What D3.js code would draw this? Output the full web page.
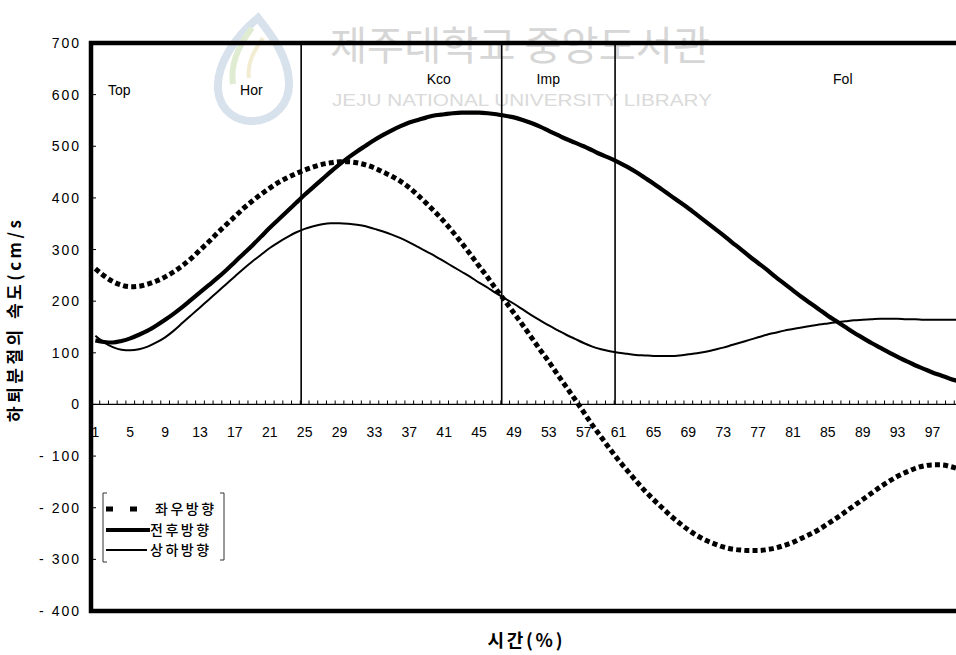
<!DOCTYPE html>
<html>
<head>
<meta charset="utf-8">
<script src="https://cdn.jsdelivr.net/npm/d3@7/dist/d3.min.js"></script>
<style>
  html, body { margin: 0; padding: 0; background: #fff; }
  svg { display: block; }
  .num { font-family: "Liberation Sans", Arial, sans-serif; }
  .kr { font-family: "Noto Sans CJK KR", sans-serif; }
</style>
</head>
<body>
<svg id="chart" width="956" height="655"></svg>
<script>
// Time axis: percent of the movement, 1..100
const categories = d3.range(1, 101);

// 좌우방향 (medio-lateral) shank velocity, cm/s
const lateral = [
  263, 249, 238, 231, 228, 229, 233, 239, 247, 257,
  269, 283, 299, 315, 332, 348, 364, 380, 394, 407,
  419, 430, 439, 447, 454, 460, 465, 468, 470, 470,
  468, 464, 458, 450, 442, 432, 420, 405, 389, 372,
  354, 334, 313, 291, 268, 246, 222, 200, 177, 154,
  130, 106, 83, 58, 34, 10, -15, -40, -63, -86,
  -108, -128, -148, -167, -184, -200, -216, -230, -243, -254,
  -263, -270, -276, -280, -282, -283, -283, -281, -278, -273,
  -267, -259, -251, -242, -231, -220, -208, -196, -184, -172,
  -160, -149, -139, -131, -124, -119, -117, -117, -120, -125
];

// 전후방향 (antero-posterior) shank velocity, cm/s
const anterior = [
  124, 121, 120, 123, 128, 135, 143, 153, 164, 176,
  189, 203, 217, 231, 245, 260, 276, 292, 308, 325,
  342, 358, 374, 390, 406, 421, 436, 451, 465, 478,
  490, 501, 512, 522, 531, 539, 546, 551, 556, 560,
  562, 564, 565, 565, 565, 564, 562, 559, 556, 551,
  545, 538, 530, 522, 514, 507, 500, 492, 484, 477,
  469, 460, 450, 439, 428, 416, 404, 392, 380, 367,
  354, 341, 328, 314, 301, 287, 274, 261, 247, 234,
  221, 208, 196, 184, 172, 161, 150, 139, 129, 119,
  110, 101, 92, 84, 76, 69, 62, 56, 50, 45
];

// 상하방향 (vertical) shank velocity, cm/s
const vertical = [
  133, 120, 111, 106, 105, 107, 112, 120, 130, 143,
  158, 173, 188, 203, 218, 233, 248, 263, 277, 290,
  303, 314, 324, 333, 340, 345, 349, 351, 351, 350,
  348, 345, 340, 335, 329, 322, 314, 305, 296, 287,
  277, 267, 257, 247, 236, 226, 215, 205, 195, 184,
  173, 163, 153, 144, 135, 127, 119, 112, 107, 103,
  100, 98, 96, 95, 94, 94, 94, 95, 97, 99,
  102, 106, 110, 115, 120, 125, 130, 135, 139, 143,
  146, 149, 152, 155, 157, 159, 161, 163, 164, 165,
  166, 166, 166, 165, 165, 164, 164, 164, 164, 164
];

const seriesNames = ["좌우방향", "전후방향", "상하방향"];

// Value axis
const yTickValues = [700, 600, 500, 400, 300, 200, 100, 0, -100, -200, -300, -400];
const yTickLabels = ["700", "600", "500", "400", "300", "200", "100", "0", "- 100", "- 200", "- 300", "- 400"];

// Time axis labels (every 4th percent)
const xTickLabels = d3.range(1, 101, 4);

// Movement phases: names and their boundaries (percent of time)
const phaseNames = ["Top", "Hor", "Kco", "Imp", "Fol"];
const phaseBounds = [24.1, 47.1, 60.1];
const phaseLabelAt = [1.95, 17.1, 38.5, 51.1, 85.1];
const phaseLabelLevel = [600, 600, 620, 620, 620];

const svg = d3.select("#chart");
const W = 956, H = 655;
const plot = { left: 91, right: 963, top: 43, bottom: 611 };

svg.append("rect").attr("width", W).attr("height", H).attr("fill", "#fff");

// ---- library watermark (faint, behind the chart)
const wm = svg.append("g");
const logo = wm.append("g").attr("opacity", 0.45);
logo.append("path")
  .attr("d", "M258,18 C236,36 216,64 218,90 C220,112 238,122 254,121 C274,120 290,104 289,82 C288,58 274,38 258,18 Z")
  .attr("fill", "none").attr("stroke", "#a9bfd9").attr("stroke-width", 8);
logo.append("path")
  .attr("d", "M252,28 C238,46 230,64 233,84")
  .attr("fill", "none").attr("stroke", "#bcd79c").attr("stroke-width", 6);
logo.append("path")
  .attr("d", "M263,38 C253,52 247,64 249,78")
  .attr("fill", "none").attr("stroke", "#e4d99c").attr("stroke-width", 4);
wm.append("text").attr("class", "kr").attr("x", 330).attr("y", 60)
  .attr("font-size", 40).attr("fill", "#d6d6d6")
  .attr("textLength", 380).attr("lengthAdjust", "spacingAndGlyphs")
  .text("제주대학교 중앙도서관");
wm.append("text").attr("class", "num").attr("x", 332).attr("y", 106)
  .attr("font-size", 17).attr("fill", "#dadada")
  .attr("textLength", 380).attr("lengthAdjust", "spacingAndGlyphs")
  .text("JEJU NATIONAL UNIVERSITY LIBRARY");

// ---- scales
const x = d3.scaleBand().domain(categories).range([plot.left, plot.right]).padding(0);
const bw = x.bandwidth();
const xc = c => x(c) + bw / 2;
const xLin = d3.scaleLinear().domain([0, 100]).range([plot.left, plot.right]);
const y = d3.scaleLinear().domain([-400, 700]).range([plot.bottom, plot.top]);

// ---- phase separators (from the top frame down to the zero line)
svg.append("g").selectAll("line").data(phaseBounds).join("line")
  .attr("x1", d => xLin(d)).attr("x2", d => xLin(d))
  .attr("y1", plot.top).attr("y2", y(0))
  .attr("stroke", "#000").attr("stroke-width", 1.6);

// ---- zero line with category tick marks
const zeroAxis = svg.append("g").attr("transform", `translate(0,${y(0)})`);
zeroAxis.append("line").attr("x1", plot.left).attr("x2", plot.right)
  .attr("stroke", "#000").attr("stroke-width", 1.2);
zeroAxis.selectAll("line.tk").data(d3.range(0, 101)).join("line").attr("class", "tk")
  .attr("x1", d => xLin(d)).attr("x2", d => xLin(d))
  .attr("y1", 0).attr("y2", -4)
  .attr("stroke", "#000").attr("stroke-width", 1);

// x tick labels, beneath the zero line
svg.append("g").selectAll("text").data(xTickLabels).join("text")
  .attr("class", "num")
  .attr("x", d => xc(d)).attr("y", y(0) + 33)
  .attr("text-anchor", "middle").attr("font-size", 14).attr("fill", "#000")
  .text(d => d);

// ---- y axis ticks (inside) and labels
svg.append("g").selectAll("line").data(yTickValues).join("line")
  .attr("x1", plot.left).attr("x2", plot.left + 5)
  .attr("y1", d => y(d)).attr("y2", d => y(d))
  .attr("stroke", "#000").attr("stroke-width", 1);
svg.append("g").selectAll("text").data(yTickValues).join("text")
  .attr("class", "num")
  .attr("x", 81).attr("y", d => y(d) + 5)
  .attr("text-anchor", "end").attr("font-size", 14).attr("fill", "#000")
  .attr("letter-spacing", 2)
  .text((d, i) => yTickLabels[i]);

// ---- series
const line = d3.line()
  .x(d => xc(d.c)).y(d => y(d.v))
  .curve(d3.curveMonotoneX);
const toPts = arr => categories.map((c, i) => ({ c, v: arr[i] }));

const styles = [
  { data: lateral,  width: 5,   dash: "5,3.2" },
  { data: anterior, width: 4.2, dash: null },
  { data: vertical, width: 2,   dash: null }
];
const lines = svg.append("g");
styles.forEach(s => {
  lines.append("path")
    .datum(toPts(s.data))
    .attr("d", line)
    .attr("fill", "none").attr("stroke", "#000")
    .attr("stroke-width", s.width)
    .attr("stroke-linejoin", "round")
    .attr("stroke-dasharray", s.dash);
});

// ---- plot frame (left, top, bottom)
svg.append("path")
  .attr("d", `M${plot.right + 10},${plot.top} H${plot.left} V${plot.bottom} H${plot.right + 10}`)
  .attr("fill", "none").attr("stroke", "#000").attr("stroke-width", 4.5);

// ---- phase labels
svg.append("g").selectAll("text").data(phaseNames).join("text")
  .attr("class", "num")
  .attr("x", (d, i) => xLin(phaseLabelAt[i]))
  .attr("y", (d, i) => y(phaseLabelLevel[i]))
  .attr("font-size", 14).attr("fill", "#000")
  .text(d => d);

// ---- legend
const lg = svg.append("g");
lg.append("path").attr("d", "M107,493 H103 V562 H107")
  .attr("fill", "none").attr("stroke", "#333").attr("stroke-width", 1);
lg.append("path").attr("d", "M220,493 H224 V560 H220")
  .attr("fill", "none").attr("stroke", "#333").attr("stroke-width", 1);
const legendRows = [509, 530, 550];
const legendSym = [
  { x2: 138, width: 5,   dash: "7,17" },
  { x2: 150, width: 4.2, dash: null },
  { x2: 147, width: 2,   dash: null }
];
seriesNames.forEach((name, i) => {
  lg.append("line")
    .attr("x1", 106).attr("x2", legendSym[i].x2)
    .attr("y1", legendRows[i]).attr("y2", legendRows[i])
    .attr("stroke", "#000").attr("stroke-width", legendSym[i].width)
    .attr("stroke-dasharray", legendSym[i].dash);
  lg.append("text").attr("class", "kr")
    .attr("x", i === 0 ? 155 : 150).attr("y", legendRows[i] + 5)
    .attr("font-size", 14).attr("font-weight", 500).attr("fill", "#000")
    .attr("letter-spacing", 2.5)
    .text(name);
});

// ---- axis titles
svg.append("text").attr("class", "kr")
  .attr("transform", "translate(21,321) rotate(-90)")
  .attr("text-anchor", "middle").attr("font-size", 17).attr("font-weight", 700)
  .attr("textLength", 202).attr("lengthAdjust", "spacing")
  .attr("fill", "#000")
  .text("하퇴분절의 속도(cm/s");
svg.append("text").attr("class", "kr")
  .attr("x", 525).attr("y", 647)
  .attr("text-anchor", "middle").attr("font-size", 18).attr("font-weight", 700)
  .attr("textLength", 75).attr("lengthAdjust", "spacing")
  .attr("fill", "#000")
  .text("시간(%)");
</script>
</body>
</html>
